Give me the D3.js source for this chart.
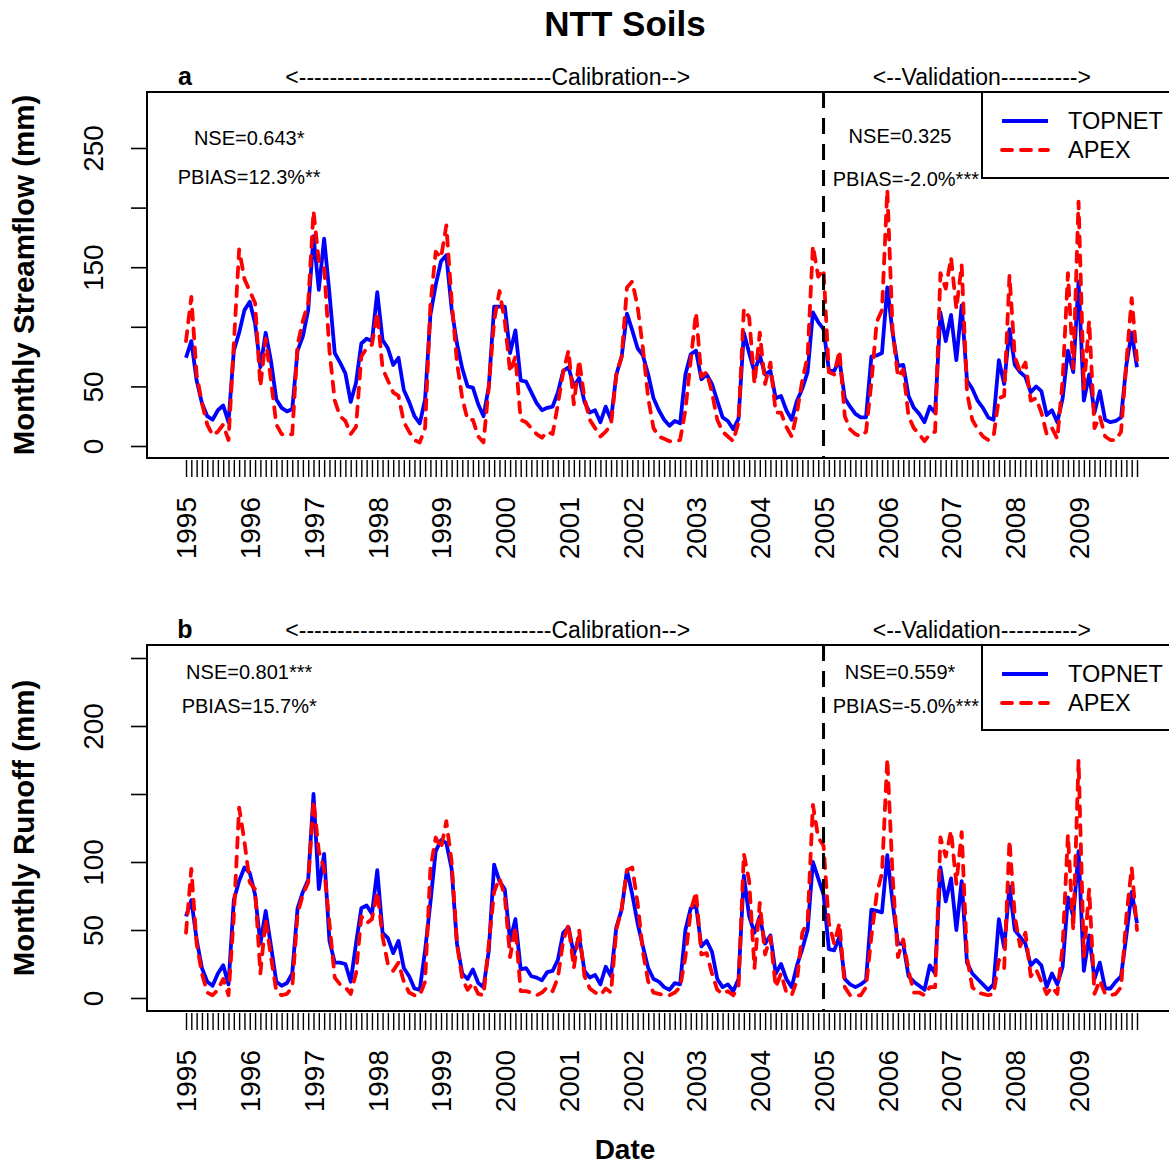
<!DOCTYPE html>
<html>
<head>
<meta charset="utf-8">
<script src="https://cdn.jsdelivr.net/npm/d3@7"></script>
<style>
body { margin: 0; background: #fff; }
text { font-family: "Liberation Sans", Arial, sans-serif; fill: #000; }
</style>
</head>
<body>
<script>
// monthly values, Jan 1995 .. Dec 2009 (180 months)
var years = [1995,1996,1997,1998,1999,2000,2001,2002,2003,2004,2005,2006,2007,2008,2009];

var topnetFlow = [
 74, 88, 55, 36, 25, 22, 30, 34, 20, 80, 95,114,
121,103, 66, 95, 71, 39, 32, 29, 31, 80, 92,114,
176,131,174,128, 78, 70, 61, 37, 53, 86, 90, 88,
129, 89, 82, 68, 74, 47, 37, 25, 19, 39,110,135,
155,160,115, 86, 65, 50, 49, 35, 25, 50,117,117,
117, 78, 97, 55, 54, 45, 36, 30, 32, 33, 45, 63,
 66, 50, 57, 37, 28, 30, 20, 33, 22, 60, 75,111,
 97, 82, 76, 60, 40, 30, 22, 17, 21, 19, 60, 77,
 80, 56, 60, 52, 38, 24, 21, 14, 23, 95, 78, 62,
 76, 60, 63, 40, 42, 30, 22, 38, 48, 62,112,104,
 98, 64, 63, 72, 40, 33, 27, 24, 24, 75, 76, 78,
133, 95, 67, 68, 42, 32, 27, 20, 33, 28,112, 88,
110, 72,118, 55, 48, 38, 32, 24, 22, 72, 52, 98,
 68, 62, 58, 45, 50, 46, 26, 30, 20, 40, 80, 62,
138, 38, 60, 28, 46, 22, 20, 21, 24, 68, 95, 66];

var apexFlow = [
 88,125, 60, 36, 18,  9, 12, 18,  5, 85,165,140,
130,120, 50, 90, 55, 18, 10,  9, 10, 85,105,120,
197,155,150, 80, 38, 25, 21, 10, 16, 75, 82, 85,
112, 65, 55, 45, 42, 20, 12,  5,  3, 15,118,163,
158,185,122, 70, 40, 22, 22,  8,  3, 50,105,130,
105, 62, 75, 22, 20, 15, 10,  7, 12, 10, 35, 62,
 80, 35, 72, 40, 22, 15,  8, 12, 18, 60, 75,133,
138,117, 82, 40, 15,  8,  6,  4,  4,  5, 30, 72,
112, 58, 62, 45, 22, 12,  8,  4, 20,115,108, 52,
 95, 52, 70, 28, 28, 16,  8, 28, 55, 75,168,142,
148, 62, 60, 80, 25, 14, 10,  8, 12, 53,104,114,
215, 97, 58, 64, 25, 15, 10,  4, 10, 12,145,132,
158,115,152, 45, 22, 14,  8,  5,  8, 40, 42,143,
 75, 62, 70, 38, 40, 28, 10, 15,  6, 55,145, 65,
205, 48,105, 15, 25,  8,  5,  5, 12, 70,124, 72];

var topnetRunoff = [
 60, 72, 43, 22, 12,  9, 18, 24, 10, 72, 86, 96,
 92, 76, 40, 64, 38, 12,  9, 11, 18, 66, 78, 87,
150, 80,106, 42, 26, 26, 25, 12, 40, 66, 68, 62,
 94, 48, 44, 33, 42, 22, 16,  7,  6, 35, 70,108,
116,114, 95, 40, 18, 14, 21, 11,  8, 35, 98, 86,
 80, 42, 58, 21, 22, 16, 15, 13, 19, 20, 28, 48,
 52, 32, 45, 20, 15, 17, 10, 23, 16, 52, 65, 94,
 76, 55, 38, 22, 14, 12,  8,  6, 11, 10, 50, 66,
 68, 38, 42, 34, 14,  8, 10,  5, 14, 90, 60, 48,
 60, 40, 46, 18, 25, 14,  8, 24, 36, 50,100, 88,
 76, 36, 35, 45, 14, 10,  8, 10, 13, 65, 64, 63,
105, 70, 40, 40, 16, 12,  9,  6, 24, 18, 96, 71,
 88, 50, 86, 26, 18, 14, 10,  6, 10, 58, 37, 82,
 50, 45, 40, 24, 28, 24,  8, 18, 10, 23, 74, 60,
108, 20, 46, 14, 26,  7,  7, 12, 16, 46, 78, 55];

var apexRunoff = [
 48, 95, 40, 18,  4,  2,  6, 14,  2, 60,140,115,
 85, 80, 18, 58, 30,  5,  2,  3,  8, 62, 76, 85,
145,108, 95, 55, 15, 10,  8,  3, 18, 60, 55, 58,
 78, 45, 25, 20, 26, 12,  4,  2,  2, 12, 95,118,
110,130,100, 40, 14,  6, 11,  3,  2, 40, 78, 88,
 75, 30, 52,  5,  5,  4,  2,  4,  8,  5, 15, 42,
 54, 22, 50, 16,  7,  4,  2,  7,  4, 50, 66, 94,
 96, 70, 34, 12,  4,  3,  2,  2,  4,  8, 30, 64,
 78, 32, 33, 18,  6,  3,  5,  2,  8,106, 86, 22,
 70, 32, 45,  8, 18,  4,  2, 13, 48, 56,142,118,
112, 55, 40, 55,  8,  2,  2,  2,  8, 45, 76, 92,
176, 90, 30, 43, 20,  4,  4,  2,  8,  8,118,104,
123, 84,122, 30,  8,  4,  3,  2,  3, 28, 22,116,
 60, 38, 48, 16, 21, 12,  3,  8,  3, 38,120, 50,
175, 30, 80,  3, 13,  3,  2,  3,  8, 60, 96, 50];

var flowTicks = [0, 50, 100, 150, 200, 250];
var flowLabels = [0, 50, 150, 250];
var runoffTicks = [0, 50, 100, 150, 200, 250];
var runoffLabels = [0, 50, 100, 200];
var seriesNames = ["TOPNET", "APEX"];
var statsFlow = ["NSE=0.643*", "PBIAS=12.3%**", "NSE=0.325", "PBIAS=-2.0%***"];
var statsRunoff = ["NSE=0.801***", "PBIAS=15.7%*", "NSE=0.559*", "PBIAS=-5.0%***"];
var validationStart = 120; // Jan 2005

var width = 1169, height = 1165;
var boxLeft = 147, boxRight = 1175;

var svg = d3.select("body").append("svg")
    .attr("width", width)
    .attr("height", height);

// month index -> pixel
var x = d3.scaleLinear().domain([0, 179]).range([186, 1137]);

svg.append("text")
    .attr("x", 625).attr("y", 36)
    .attr("text-anchor", "middle")
    .style("font-size", "35px").style("font-weight", "bold")
    .text("NTT Soils");

svg.append("text")
    .attr("x", 625).attr("y", 1159)
    .attr("text-anchor", "middle")
    .style("font-size", "28px").style("font-weight", "bold")
    .text("Date");

function drawPanel(p) {
  var y = d3.scaleLinear().domain([0, p.yMax]).range([p.y0, p.yMaxPx]);

  // x axis: one tick per month, year label every January
  var xa = svg.append("g")
      .attr("transform", "translate(0," + (p.bottom + 2) + ")")
      .call(d3.axisBottom(x)
        .tickValues(d3.range(180))
        .tickSizeInner(17).tickSizeOuter(0)
        .tickFormat(function(d) { return d % 12 === 0 ? years[d / 12] : ""; }));
  xa.select(".domain").remove();
  xa.selectAll("line").attr("stroke", "#000").attr("stroke-width", 1.4);
  xa.selectAll("text")
      .attr("x", -37).attr("y", 0).attr("dy", "0.35em")
      .attr("text-anchor", "end")
      .attr("transform", "rotate(-90)")
      .style("font-size", "28px").style("font-family", "Liberation Sans, Arial, sans-serif")
      .attr("fill", "#000");

  // y axis
  var ya = svg.append("g")
      .attr("transform", "translate(" + boxLeft + ",0)")
      .call(d3.axisLeft(y)
        .tickValues(p.ticks)
        .tickSizeInner(16).tickSizeOuter(0)
        .tickFormat(function(d) { return p.labels.indexOf(d) >= 0 ? d : ""; }));
  ya.select(".domain").remove();
  ya.selectAll("line").attr("stroke", "#000").attr("stroke-width", 1.6);
  ya.selectAll("text")
      .attr("x", 0).attr("y", -54).attr("dy", "0.35em")
      .attr("text-anchor", "middle")
      .attr("transform", "rotate(-90)")
      .style("font-size", "28px").style("font-family", "Liberation Sans, Arial, sans-serif")
      .attr("fill", "#000");

  svg.append("text")
      .attr("transform", "translate(34," + ((p.top + p.bottom) / 2) + ") rotate(-90)")
      .attr("text-anchor", "middle")
      .style("font-size", "29.5px").style("font-weight", "bold")
      .text(p.ytitle);

  // series
  var line = d3.line()
      .x(function(d, i) { return x(i); })
      .y(function(d) { return y(d); });

  svg.append("path")
      .datum(p.topnet)
      .attr("d", line)
      .attr("fill", "none")
      .attr("stroke", "#0000ff")
      .attr("stroke-width", 3.8)
      .attr("stroke-linejoin", "round");

  svg.append("path")
      .datum(p.apex)
      .attr("d", line)
      .attr("fill", "none")
      .attr("stroke", "#ff0000")
      .attr("stroke-width", 3.8)
      .attr("stroke-linejoin", "round")
      .attr("stroke-linecap", "round")
      .attr("stroke-dasharray", "10,9");

  // calibration / validation split
  svg.append("line")
      .attr("x1", x(validationStart)).attr("x2", x(validationStart))
      .attr("y1", p.top).attr("y2", p.bottom)
      .attr("stroke", "#000").attr("stroke-width", 3)
      .attr("stroke-dasharray", "16,10");

  // plot box
  svg.append("rect")
      .attr("x", boxLeft).attr("y", p.top)
      .attr("width", boxRight - boxLeft).attr("height", p.bottom - p.top)
      .attr("fill", "none").attr("stroke", "#000").attr("stroke-width", 2);

  // labels above the box
  svg.append("text")
      .attr("x", 185).attr("y", p.top - 7)
      .attr("text-anchor", "middle")
      .style("font-size", "25px").style("font-weight", "bold")
      .text(p.tag);
  svg.append("text")
      .attr("x", x(56.8)).attr("y", p.top - 7)
      .attr("text-anchor", "middle")
      .style("font-size", "23px")
      .text("<---------------------------------Calibration-->");
  svg.append("text")
      .attr("x", x(149.8)).attr("y", p.top - 7)
      .attr("text-anchor", "middle")
      .style("font-size", "23px")
      .text("<--Validation---------->");

  // goodness of fit
  var statPos = [[11.9, p.s1], [11.9, p.s2], [134.4, p.s3], [135.5, p.s4]];
  svg.selectAll(null)
      .data(p.stats)
      .enter().append("text")
      .attr("x", function(d, i) { return x(statPos[i][0]); })
      .attr("y", function(d, i) { return y(statPos[i][1]); })
      .attr("dy", "0.35em")
      .attr("text-anchor", "middle")
      .style("font-size", "20px")
      .text(function(d) { return d; });

  // legend
  var lg = svg.append("g");
  lg.append("rect")
      .attr("x", 982).attr("y", p.top)
      .attr("width", boxRight - 982).attr("height", p.legendH)
      .attr("fill", "#fff").attr("stroke", "#000").attr("stroke-width", 2);
  seriesNames.forEach(function(name, i) {
    var ly = p.top + 29 + i * 29;
    lg.append("line")
        .attr("x1", 1002).attr("x2", 1048)
        .attr("y1", ly).attr("y2", ly)
        .attr("stroke", i === 0 ? "#0000ff" : "#ff0000")
        .attr("stroke-width", 3.8)
        .attr("stroke-linecap", i === 0 ? "butt" : "round")
        .attr("stroke-dasharray", i === 0 ? null : "10,9");
    lg.append("text")
        .attr("x", 1068).attr("y", ly)
        .attr("dy", "0.35em")
        .style("font-size", "23.5px")
        .text(name);
  });
}

drawPanel({
  tag: "a", top: 92, bottom: 458, y0: 446, yMax: 250, yMaxPx: 148,
  ticks: flowTicks, labels: flowLabels,
  topnet: topnetFlow, apex: apexFlow,
  ytitle: "Monthly Streamflow (mm)",
  stats: statsFlow, s1: 258, s2: 226, s3: 260, s4: 224, legendH: 86
});

drawPanel({
  tag: "b", top: 645, bottom: 1011, y0: 998, yMax: 200, yMaxPx: 726,
  ticks: runoffTicks, labels: runoffLabels,
  topnet: topnetRunoff, apex: apexRunoff,
  ytitle: "Monthly Runoff (mm)",
  stats: statsRunoff, s1: 240, s2: 215, s3: 240, s4: 215, legendH: 85
});
</script>
</body>
</html>
